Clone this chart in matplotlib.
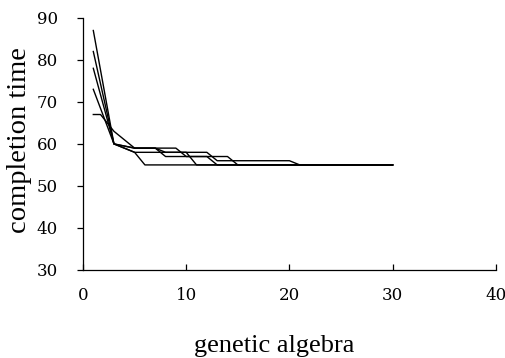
import matplotlib
matplotlib.use("Agg")
import matplotlib.pyplot as plt

# Data (generation, completion time)
s1_x = [1, 3, 5, 6, 30]
s1_y = [87, 60, 58, 55, 55]
s2_x = [1, 3, 5, 10, 11, 30]
s2_y = [82, 60, 58, 58, 55, 55]
s3_x = [1, 3, 5, 7, 8, 12, 13, 30]
s3_y = [78, 60, 59, 59, 57, 57, 55, 55]
s4_x = [1, 3, 5, 7, 8, 12, 13, 20, 21, 30]
s4_y = [73, 60, 59, 59, 58, 58, 56, 56, 55, 55]
s5_x = [1, 1.7, 3, 5, 9, 10, 14, 15, 30]
s5_y = [67, 67, 63, 59, 59, 57, 57, 55, 55]

series = [(s1_x, s1_y), (s2_x, s2_y), (s3_x, s3_y), (s4_x, s4_y), (s5_x, s5_y)]

x_ticks = [0, 10, 20, 30, 40]
y_ticks = [30, 40, 50, 60, 70, 80, 90]

fig = plt.figure(figsize=(5.06, 3.58), dpi=100)
ax = fig.add_axes([0.164, 0.246, 0.816, 0.704])

for xs, ys in series:
    ax.plot(xs, ys, color="black", linewidth=1.0)

ax.set_xlim(0, 40)
ax.set_ylim(30, 90)
ax.set_xticks(x_ticks)
ax.set_yticks(y_ticks)
ax.spines["top"].set_visible(False)
ax.spines["right"].set_visible(False)
for s in ["left", "bottom"]:
    ax.spines[s].set_linewidth(0.9)

ax.tick_params(axis="x", direction="in", length=4, width=0.9, pad=12)
ax.tick_params(axis="y", direction="out", length=4, width=0.9, pad=14)
for lab in ax.get_xticklabels() + ax.get_yticklabels():
    lab.set_fontfamily("DejaVu Serif")
    lab.set_fontsize(12)

fig.text(274 / 506, (358 - 352) / 358, "genetic algebra", fontfamily="Liberation Serif",
         fontsize=19, ha="center", va="baseline")
fig.text(20 / 506, (358 - 140) / 358, "completion time", fontfamily="Liberation Serif",
         fontsize=20.5, ha="center", va="center", rotation=90)

fig.savefig("out.png", dpi=100)
